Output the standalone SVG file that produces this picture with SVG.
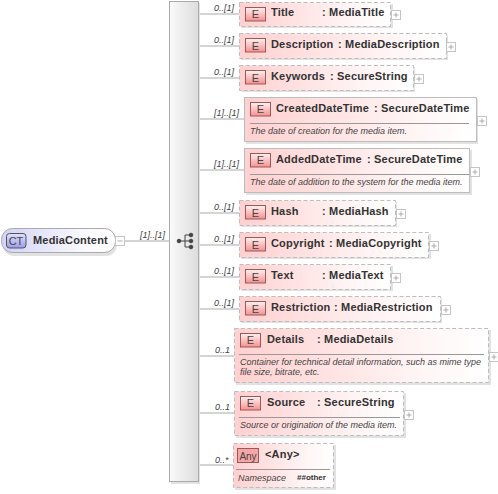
<svg xmlns="http://www.w3.org/2000/svg" width="498" height="494" viewBox="0 0 498 494">
<style>
text{font-family:"Liberation Sans",Arial,sans-serif;fill:#333}
.n{font-size:11px;font-weight:bold;letter-spacing:.18px}
.d{font-size:9px;font-style:italic;fill:#444}
.o{font-size:9px;font-style:italic;fill:#444}
.b{fill:url(#pink);stroke:#bdbdbd;stroke-width:1}
.dash{stroke-dasharray:4 2.4}
.sh{fill:#e2e2e2}
.e{fill:url(#badge);stroke:#9a5a5a;stroke-width:1}
.et{font-size:11px;fill:#444;text-anchor:middle}
.sep{stroke:#999;stroke-width:1}
.c{stroke:#aaa;stroke-width:1;fill:none}
.p{fill:#fff;stroke:#c4c4c4;stroke-width:1}
.pl{stroke:#aaa;stroke-width:1}
</style>
<defs>
<linearGradient id="pink" x1="0" x2="1" y1="0" y2="0"><stop offset="0" stop-color="#ffd0d0"/><stop offset=".75" stop-color="#fff6f6"/><stop offset="1" stop-color="#fff"/></linearGradient>
<linearGradient id="badge" x1="0" x2="0" y1="0" y2="1"><stop offset="0" stop-color="#fff2f2"/><stop offset="1" stop-color="#f78f8f"/></linearGradient>
<linearGradient id="seq" x1="0" x2="1" y1="0" y2="0"><stop offset="0" stop-color="#fafafa"/><stop offset="1" stop-color="#dcdcdc"/></linearGradient>
<linearGradient id="ct" x1="0" x2="1" y1="0" y2="0"><stop offset="0" stop-color="#d2d2f7"/><stop offset=".7" stop-color="#f8f8ff"/><stop offset="1" stop-color="#fff"/></linearGradient>
<linearGradient id="ctb" x1="0" x2="0" y1="0" y2="1"><stop offset="0" stop-color="#e2e2fb"/><stop offset="1" stop-color="#9c9cec"/></linearGradient>
<g id="plus"><rect class="p" x="0.5" y="0.5" width="9" height="9"/><path class="pl" d="M2.500 5H7.500M5 2.500V7.500"/></g>
</defs>

<g id="connectors">
<path class="c" d="M124 241H169"/>
<path class="c" d="M198 14H239M198 46H239M198 78H239M198 119H244M198 170H244M198 213H239M198 245H239M198 277H239M198 309H239M198 356H234M198 413H234M198 465H233"/>
</g>

<g id="sequence">
<rect x="171" y="3" width="29" height="481" fill="#e2e2e2"/>
<rect x="169.500" y="1.500" width="29" height="480" fill="url(#seq)" stroke="#aaa"/>
<g fill="#444" stroke="#444" stroke-width="1">
<path fill="none" d="M179 241H185M185 235V247M185 235H191M185 241H191M185 247H191"/>
<circle cx="179" cy="241" r="1.800"/><circle cx="191" cy="235" r="1.800"/><circle cx="191" cy="241" r="1.800"/><circle cx="191" cy="247" r="1.800"/>
</g>
</g>

<g id="MediaContent">
<rect x="3" y="231" width="114" height="25" rx="11" fill="#e2e2e2"/>
<rect x="1.500" y="228.500" width="114" height="24" rx="11" fill="url(#ct)" stroke="#aaa"/>
<rect x="6.500" y="233.500" width="19.500" height="14.500" rx="3" fill="url(#ctb)" stroke="#555"/>
<text x="16" y="245" style="font-size:11px;text-anchor:middle;fill:#444">CT</text>
<text class="n" x="33" y="244">MediaContent</text>
<rect class="p" x="115.500" y="236.500" width="9" height="9"/><path class="pl" d="M117.500 241H122.500"/>
<text class="o" x="140" y="238">[1]..[1]</text>
</g>

<g id="Title">
<rect class="sh" x="241" y="4" width="152" height="24"/>
<rect class="b dash" x="239.500" y="2.500" width="151" height="24"/>
<rect class="e" x="245.500" y="7.500" width="20" height="13.500"/><text class="et" x="255.500" y="18">E</text>
<text class="n" x="271" y="16">Title</text><text class="n" x="322" y="16">: MediaTitle</text>
<use href="#plus" x="391" y="10"/><text class="o" x="214" y="11">0..[1]</text>
</g>
<g id="Description">
<rect class="sh" x="241" y="35" width="207" height="25"/>
<rect class="b dash" x="239.500" y="33.500" width="207" height="25"/>
<rect class="e" x="245.500" y="38.500" width="20" height="13.500"/><text class="et" x="255.500" y="50">E</text>
<text class="n" x="271" y="48">Description</text><text class="n" x="338" y="48">: MediaDescription</text>
<use href="#plus" x="446" y="42"/><text class="o" x="214" y="43">0..[1]</text>
</g>
<g id="Keywords">
<rect class="sh" x="241" y="67" width="174" height="25"/>
<rect class="b dash" x="239.500" y="65.500" width="174" height="25"/>
<rect class="e" x="245.500" y="70.500" width="20" height="13.500"/><text class="et" x="255.500" y="82">E</text>
<text class="n" x="271" y="80">Keywords</text><text class="n" x="330" y="80">: SecureString</text>
<use href="#plus" x="414" y="74"/><text class="o" x="214" y="75">0..[1]</text>
</g>
<g id="CreatedDateTime">
<rect class="sh" x="246" y="99" width="232" height="45"/>
<rect class="b" x="244.500" y="97.500" width="232" height="44"/>
<rect class="e" x="250.500" y="102.500" width="20" height="13.500"/><text class="et" x="260.500" y="113">E</text>
<text class="n" x="276" y="112">CreatedDateTime</text><text class="n" x="374" y="112">: SecureDateTime</text>
<path class="sep" d="M250 123.500H469"/><text class="d" x="250" y="134">The date of creation for the media item.</text>
<use href="#plus" x="477" y="116"/><text class="o" x="214" y="116">[1]..[1]</text>
</g>
<g id="AddedDateTime">
<rect class="sh" x="246" y="150" width="226" height="45"/>
<rect class="b" x="244.500" y="148.500" width="225" height="44"/>
<rect class="e" x="250.500" y="153.500" width="20" height="13.500"/><text class="et" x="260.500" y="164">E</text>
<text class="n" x="276" y="163">AddedDateTime</text><text class="n" x="367" y="163">: SecureDateTime</text>
<path class="sep" d="M250 174.500H469"/><text class="d" x="250" y="185">The date of addition to the system for the media item.</text>
<use href="#plus" x="470" y="167"/><text class="o" x="214" y="167">[1]..[1]</text>
</g>
<g id="Hash">
<rect class="sh" x="241" y="202" width="156" height="25"/>
<rect class="b dash" x="239.500" y="200.500" width="156" height="25"/>
<rect class="e" x="245.500" y="205.500" width="20" height="13.500"/><text class="et" x="255.500" y="217">E</text>
<text class="n" x="271" y="215">Hash</text><text class="n" x="322" y="215">: MediaHash</text>
<use href="#plus" x="396" y="209"/><text class="o" x="214" y="210">0..[1]</text>
</g>
<g id="Copyright">
<rect class="sh" x="241" y="234" width="190" height="25"/>
<rect class="b dash" x="239.500" y="232.500" width="189" height="25"/>
<rect class="e" x="245.500" y="237.500" width="20" height="13.500"/><text class="et" x="255.500" y="249">E</text>
<text class="n" x="271" y="247">Copyright</text><text class="n" x="329" y="247">: MediaCopyright</text>
<use href="#plus" x="429" y="241"/><text class="o" x="214" y="242">0..[1]</text>
</g>
<g id="Text">
<rect class="sh" x="241" y="266" width="152" height="25"/>
<rect class="b dash" x="239.500" y="264.500" width="151" height="25"/>
<rect class="e" x="245.500" y="269.500" width="20" height="13.500"/><text class="et" x="255.500" y="281">E</text>
<text class="n" x="271" y="279">Text</text><text class="n" x="322" y="279">: MediaText</text>
<use href="#plus" x="391" y="273"/><text class="o" x="214" y="274">0..[1]</text>
</g>
<g id="Restriction">
<rect class="sh" x="241" y="298" width="201" height="25"/>
<rect class="b dash" x="239.500" y="296.500" width="201" height="25"/>
<rect class="e" x="245.500" y="301.500" width="20" height="13.500"/><text class="et" x="255.500" y="313">E</text>
<text class="n" x="271" y="311">Restriction</text><text class="n" x="334" y="311">: MediaRestriction</text>
<use href="#plus" x="441" y="305"/><text class="o" x="214" y="306">0..[1]</text>
</g>
<g id="Details">
<rect class="sh" x="236" y="330" width="255" height="55"/>
<rect class="b dash" x="234.500" y="328.500" width="254" height="54"/>
<rect class="e" x="240.500" y="333.500" width="20" height="13.500"/><text class="et" x="250.500" y="344">E</text>
<text class="n" x="267" y="343">Details</text><text class="n" x="317" y="343">: MediaDetails</text>
<path class="sep" d="M239 354.500H484"/>
<text class="d" x="240" y="365">Container for technical detail information, such as mime type</text>
<text class="d" x="240" y="375">file size, bitrate, etc.</text>
<use href="#plus" x="489" y="352"/><text class="o" x="215" y="353">0..1</text>
</g>
<g id="Source">
<rect class="sh" x="236" y="393" width="170" height="45"/>
<rect class="b dash" x="234.500" y="391.500" width="169" height="44"/>
<rect class="e" x="240.500" y="396.500" width="20" height="13.500"/><text class="et" x="250.500" y="407">E</text>
<text class="n" x="267" y="406">Source</text><text class="n" x="317" y="406">: SecureString</text>
<path class="sep" d="M239 417.500H400"/>
<text class="d" x="240" y="428">Source or origination of the media item.</text>
<use href="#plus" x="404" y="410"/><text class="o" x="215" y="410">0..1</text>
</g>
<g id="Any">
<rect class="sh" x="235" y="445" width="101" height="45"/>
<rect class="b dash" x="233.500" y="443.500" width="100" height="44"/>
<rect x="237.500" y="448.500" width="21" height="14" fill="#f6a6a6" stroke="#9a5a5a"/>
<text x="248" y="460" style="font-size:10px;text-anchor:middle;fill:#444">Any</text>
<text class="n" x="265" y="458">&lt;Any&gt;</text>
<path class="sep" d="M236 469.500H330"/>
<text class="d" x="238" y="481">Namespace</text>
<text x="297" y="480" style="font-size:8px;font-weight:bold;fill:#333">##other</text>
<text class="o" x="215" y="463">0..*</text>
</g>
</svg>
